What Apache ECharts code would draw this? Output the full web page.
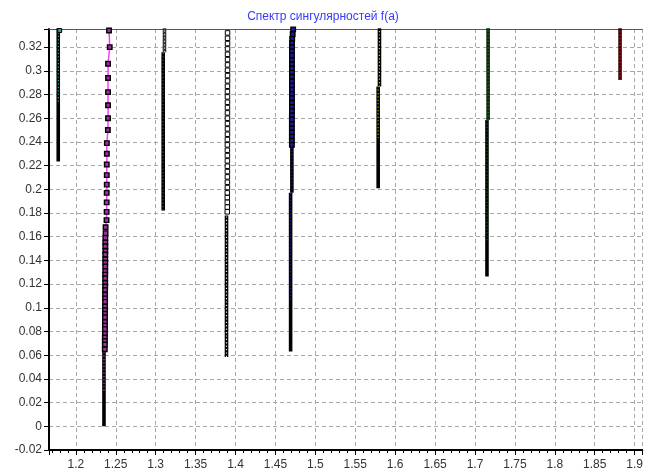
<!DOCTYPE html>
<html>
<head>
<meta charset="utf-8">
<script src="https://cdn.jsdelivr.net/npm/echarts@6/dist/echarts.min.js"></script>
<style>html,body{margin:0;padding:0;background:#fff}#c{width:646px;height:474px}</style>
</head>
<body>
<div id="c"></div>
<script>
// ---------- data ----------
const TITLE = 'Спектр сингулярностей f(a)';
const X_MIN = 1.16633, X_MAX = 1.9095;
const Y_MIN = -0.02, Y_MAX = 0.3353;

// teal spectrum
const tealBar = [[1.1779, 0.2235], [1.1779, 0.336]];
const tealDots = [[1.1781, 0.274], [1.1781, 0.336]];
const tealMarkA = [1.1797];
const tealMarkF = [0.334];

// magenta spectrum
const magentaA = [1.2415,1.2424,1.2403,1.2403,1.2403,1.2403,1.2403,1.2401,1.2388,1.2388,1.2387,1.2387,1.2387,1.2386,1.2386,1.2385,1.2384,1.2372,1.2372,
  1.2369,1.2369,1.2369,1.2369,1.2368,1.2368,1.2368,1.2368,1.2368,1.2367,1.2367,1.2367,1.2367,1.2366,1.2366,1.2366,1.2366,1.2365,1.2365,1.2365,1.2365,1.2364,1.2364,1.2364,1.2364,1.2363,1.2363,1.2363,1.2362];
const magentaF = [0.334,0.320,0.306,0.294,0.282,0.271,0.260,0.250,0.239,0.230,0.221,0.212,0.204,0.197,0.189,0.181,0.174,0.168,0.163,
  0.159,0.155,0.152,0.148,0.145,0.141,0.138,0.135,0.131,0.128,0.125,0.121,0.118,0.115,0.111,0.108,0.105,0.101,0.098,0.095,0.092,0.088,0.085,0.082,0.078,0.075,0.072,0.069,0.065];
const magentaBar = [[1.2352, 0.0], [1.2352, 0.063]];
const magentaDots = [[1.2352, 0.030], [1.2352, 0.063]];

// black spectrum
const blackUpperBar = [[1.3110, 0.3157], [1.3110, 0.336]];
const blackLowerBar = [[1.3094, 0.1821], [1.3094, 0.3157]];

// white-marker spectrum
const whiteA = [1.3900,1.3900,1.3900,1.3900,1.3900,1.3900,1.3900,1.3900,1.3900,1.3900,1.3899,1.3899,1.3899,1.3899,1.3899,1.3899,1.3899,1.3899,1.3899,1.3899,1.3898,1.3898,1.3898,1.3898,1.3898,1.3898,1.3898,1.3898,1.3898,1.3898,1.3897,1.3897,1.3897,1.3897,1.3897];
const whiteF = [0.332,0.3275,0.323,0.3185,0.314,0.3095,0.305,0.3005,0.296,0.2915,0.287,0.2825,0.278,0.2735,0.269,0.2645,0.260,0.2555,0.251,0.2465,0.242,0.2375,0.233,0.2285,0.224,0.2195,0.215,0.2105,0.206,0.2015,0.197,0.193,0.189,0.185,0.181];
const whiteBar = [[1.3887, 0.0585], [1.3887, 0.178]];

// blue spectrum
const blueA = [1.4722,1.4716,1.4710,1.4708,1.4707,1.4707,1.4707,1.4707,1.4707,1.4707,1.4707,1.4707,1.4707,1.4707,1.4707,1.4707,1.4707,1.4707,1.4707,1.4707,1.4706,1.4706,1.4706,1.4706,1.4706,1.4706,1.4706,1.4706];
const blueF = [0.335,0.331,0.327,0.3235,0.320,0.3165,0.313,0.309,0.3055,0.302,0.2985,0.295,0.291,0.2875,0.284,0.2805,0.277,0.273,0.2695,0.266,0.2625,0.259,0.255,0.2515,0.248,0.2445,0.241,0.2375];
const blueMidBar = [[1.4706, 0.197], [1.4706, 0.236]];
const blueLowerBar = [[1.4690, 0.0632], [1.4690, 0.197]];
const blueLowerDots = [[1.4690, 0.107], [1.4690, 0.197]];

// olive spectrum
const oliveUpperBar = [[1.5803, 0.2867], [1.5803, 0.336]];
const oliveLowerBar = [[1.5787, 0.201], [1.5787, 0.2867]];
const oliveLowerDots = [[1.5787, 0.243], [1.5787, 0.2867]];

// green spectrum
const greenUpperBar = [[1.7164, 0.2586], [1.7164, 0.336]];
const greenLowerBar = [[1.7150, 0.1265], [1.7150, 0.2586]];
const greenLowerDots = [[1.7150, 0.157], [1.7150, 0.2586]];

// red spectrum
const redBar = [[1.8817, 0.2923], [1.8817, 0.336]];

// ---------- helpers ----------
function pairs(a, f) { return a.map((v, i) => [v, f[i]]); }
function bar(data, color) {
  return { type: 'line', data, symbol: 'none', silent: true, z: 3,
    lineStyle: { color: color || '#000', width: 3.6, cap: 'butt' } };
}
function dots(data, color) {
  return { type: 'line', data, symbol: 'none', silent: true, z: 4,
    lineStyle: { color, width: 1.2, type: [1.2, 2.2], cap: 'butt' } };
}
function markers(data, fill, lineColor, size, bw) {
  return { type: 'line', data, symbol: 'rect', symbolSize: size || 4, silent: true, z: 5,
    lineStyle: { color: lineColor || 'transparent', width: 1.5 },
    itemStyle: { color: fill, borderColor: '#000', borderWidth: bw || 1 } };
}

const series = [
  bar(tealBar), dots(tealDots, '#2a9d9d'), markers(pairs(tealMarkA, tealMarkF), '#2a9d9d'),
  markers(pairs(magentaA, magentaF), '#a030a0', '#ff3cff', 4.5, 1.4),
  bar(magentaBar), dots(magentaDots, '#d040d0'),
  bar(blackUpperBar, '#333'), dots(blackUpperBar, '#c8c8c8'),
  bar(blackLowerBar), dots(blackLowerBar, '#4a4a4a'),
  markers(pairs(whiteA, whiteF), '#ffffff', null, 4.5),
  bar(whiteBar), dots(whiteBar, '#e8e8e8'),
  markers(pairs(blueA, blueF), '#1a1a9a', '#3030ff', 4.5, 1.4),
  bar(blueMidBar), dots(blueMidBar, '#2020b0'),
  bar(blueLowerBar), dots(blueLowerDots, '#1a1aa0'),
  bar(oliveUpperBar), dots(oliveUpperBar, '#d0d000'),
  bar(oliveLowerBar), dots(oliveLowerDots, '#a8a800'),
  bar(greenUpperBar, '#0a200a'), dots(greenUpperBar, '#1a8a1a'),
  bar(greenLowerBar), dots(greenLowerDots, '#106010'),
  bar(redBar, '#3a0000'), dots(redBar, '#e01010')
];

function fmt(step) {
  return function (v) {
    const r = Math.round(v / step) * step;
    return Math.abs(v - r) < 1e-6 ? String(+r.toFixed(2)) : '';
  };
}

const chart = echarts.init(document.getElementById('c'), null, { renderer: 'canvas' });
chart.setOption({
  animation: false,
  backgroundColor: '#fff',
  title: { text: TITLE, left: 'center', top: 6,
    textStyle: { fontFamily: 'Liberation Sans', fontSize: 12, fontWeight: 'normal', color: '#3838ff' } },
  grid: { left: 49, right: 1, top: 29, bottom: 24, containLabel: false },
  xAxis: [{
    type: 'value', min: X_MIN, max: X_MAX, splitNumber: 15,
    axisLine: { show: true, onZero: false, lineStyle: { color: '#000', width: 2 } },
    axisTick: { show: true, length: 5, lineStyle: { color: '#000' } },
    minorTick: { show: true, splitNumber: 5, length: 3, lineStyle: { color: '#000' } },
    axisLabel: { margin: 9, fontFamily: 'Liberation Sans', fontSize: 12, color: '#333', formatter: fmt(0.05) },
    splitLine: { show: true, lineStyle: { color: '#a8a8a8', type: [4, 3], width: 1 } }
  }, {
    type: 'value', position: 'top', min: X_MIN, max: X_MAX,
    axisLine: { show: true, onZero: false, lineStyle: { color: '#555', width: 1 } },
    axisTick: { show: false }, axisLabel: { show: false }, splitLine: { show: false }
  }],
  yAxis: {
    type: 'value', min: Y_MIN, max: Y_MAX, interval: 0.02,
    axisLine: { show: true, onZero: false, lineStyle: { color: '#000', width: 2 } },
    axisTick: { show: true, length: 5, lineStyle: { color: '#000' } },
    axisLabel: { margin: 7, fontFamily: 'Liberation Sans', fontSize: 12, color: '#333', formatter: fmt(0.02) },
    splitLine: { show: true, lineStyle: { color: '#a8a8a8', type: [4, 3], width: 1 } }
  },
  series
});
</script>
</body>
</html>
